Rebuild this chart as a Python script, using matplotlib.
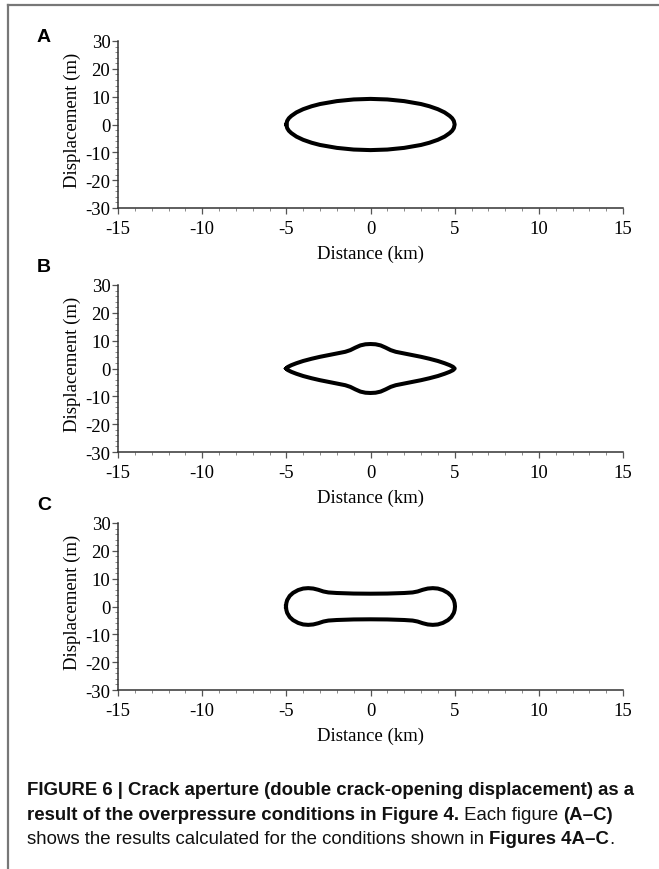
import matplotlib
matplotlib.use('Agg')
import matplotlib.pyplot as plt
import numpy as np
from matplotlib.lines import Line2D
from matplotlib.ticker import MultipleLocator
from matplotlib import font_manager

plt.rcParams['axes.unicode_minus'] = False

# half profiles (x >= 0) of the crack opening; mirrored in x and y
xa = [0, 1, 2, 3, 3.5, 4, 4.4, 4.7, 4.85, 4.95, 5.0]
ya = [9.2, 9.0, 8.4, 7.35, 6.55, 5.5, 4.35, 3.1, 2.25, 1.3, 0]

xb = [0, 0.3, 0.6, 0.9, 1.2, 1.5, 2.0, 2.5, 3.0, 3.5, 4.0, 4.4, 4.7, 4.9, 5.0]
yb = [8.8, 8.7, 8.3, 7.5, 6.6, 6.0, 5.4, 4.8, 4.2, 3.5, 2.7, 1.9, 1.2, 0.6, 0]

xc = [0, 1.0, 2.0, 2.5, 2.8, 3.1, 3.4, 3.7, 4.0, 4.3, 4.6, 4.8, 4.95, 5.0, 5.02]
yc = [4.6, 4.65, 4.85, 5.05, 5.4, 6.0, 6.45, 6.6, 6.45, 5.9, 4.9, 3.8, 2.3, 1.2, 0]

panels = ['A', 'B', 'C']
profiles = [(xa, ya), (xb, yb), (xc, yc)]


def closed(xh, yh):
    xh = np.asarray(xh, float)
    yh = np.asarray(yh, float)
    x_up = np.concatenate([-xh[::-1], xh[1:]])
    y_up = np.concatenate([yh[::-1], yh[1:]])
    x = np.concatenate([x_up, x_up[::-1]])
    y = np.concatenate([y_up, -y_up[::-1]])
    return x, y


W, H = 659, 870
fig = plt.figure(figsize=(W / 100, H / 100), dpi=100)

serif = ['Liberation Serif', 'DejaVu Serif']
tops = [42, 286, 524]
letter_y = [37, 268, 506]
ax_h = 167
left, right = 118, 623

for name, (xh, yh), top, ly in zip(panels, profiles, tops, letter_y):
    ax = fig.add_axes([left / W, 1 - (top + ax_h) / H, (right - left) / W, ax_h / H])
    x, y = closed(xh, yh)
    ax.plot(x, y, color='black', lw=2.9, solid_joinstyle='round')
    ax.set_xlim(-15, 15)
    ax.set_ylim(-30, 30)
    ax.xaxis.set_major_locator(MultipleLocator(5))
    ax.xaxis.set_minor_locator(MultipleLocator(1))
    ax.yaxis.set_major_locator(MultipleLocator(10))
    ax.yaxis.set_minor_locator(MultipleLocator(2))
    for s in ['top', 'right']:
        ax.spines[s].set_visible(False)
    for s in ['left', 'bottom']:
        ax.spines[s].set_color('#333333')
        ax.spines[s].set_linewidth(1.1)
    ax.tick_params(which='major', direction='out', length=4, width=0.9,
                   color='#555555', labelsize=13.5, pad=1.5)
    ax.tick_params(which='minor', direction='out', length=2, width=0.6,
                   color='#777777')
    ax.tick_params(axis='x', which='major', pad=5)
    for lab in ax.get_xticklabels() + ax.get_yticklabels():
        lab.set_family(serif)
    ax.set_xlabel('Distance (km)', fontsize=13.5, family=serif, labelpad=5)
    ax.set_ylabel('Displacement (m)', fontsize=13.5, family=serif)
    ax.yaxis.set_label_coords(-0.073, 0.53)
    fig.text(44 / W, 1 - ly / H, name, fontsize=14, fontweight='bold',
             family=['Liberation Sans', 'DejaVu Sans'], ha='center', va='center')

# frame lines of the page
fig.add_artist(Line2D([8 / W, 8 / W], [0, 1 - 6 / H], color='#777777', lw=1.6))
fig.add_artist(Line2D([8 / W, 1], [1 - 6 / H, 1 - 6 / H], color='#777777', lw=1.6))

# caption with mixed bold / regular runs
names = {f.name for f in font_manager.fontManager.ttflist}
cap_font = 'Liberation Sans Narrow' if 'Liberation Sans Narrow' in names else 'Liberation Sans'
cap_lines = [
    [('FIGURE 6 | Crack aperture (double crack-opening displacement) as a', 'bold')],
    [('result of the overpressure conditions in Figure 4.', 'bold'),
     (' Each figure ', 'normal'), ('(A\u2013C)', 'bold')],
    [('shows the results calculated for the conditions shown in ', 'normal'),
     ('Figures 4A\u2013C', 'bold'), ('.', 'normal')],
]
cap_y = [791, 815.5, 840]
renderer = fig.canvas.get_renderer()

# size the caption so the first line spans the same width as in the figure
probe = fig.text(0, 0, cap_lines[0][0][0], fontsize=10, fontweight='bold', family=cap_font)
w10 = probe.get_window_extent(renderer=renderer).width
probe.remove()
cap_size = 10 * 612 / w10

for runs, yy in zip(cap_lines, cap_y):
    xpos = 27
    for txt, wt in runs:
        t = fig.text(xpos / W, 1 - yy / H, txt, fontsize=cap_size, fontweight=wt,
                     family=[cap_font, 'DejaVu Sans'], va='center', ha='left',
                     color='#111111')
        bb = t.get_window_extent(renderer=renderer)
        xpos += bb.width

fig.savefig('out.png', dpi=100)
